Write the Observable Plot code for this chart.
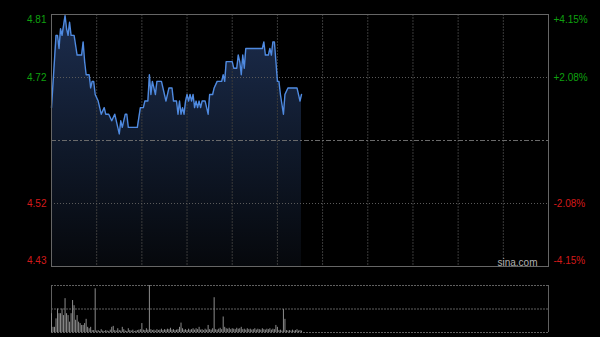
<!DOCTYPE html>
<html>
<head>
<meta charset="utf-8">
<script src="https://cdn.jsdelivr.net/npm/d3@7"></script>
<script src="https://cdn.jsdelivr.net/npm/@observablehq/plot@0.6"></script>
<style>
  html, body { margin: 0; padding: 0; background: #000; }
  #wrap { position: relative; width: 600px; height: 337px; background: #000; overflow: hidden; }
  #wrap svg { position: absolute; left: 0; display: block; }
</style>
</head>
<body>
<div id="wrap"></div>
<script>
// ---- data ----
const prevClose = 4.62;
const maxPct = 4.15;               // top / bottom of the price scale, in %
const sessionMinutes = 330;        // HK session 09:30-12:00, 13:00-16:00
const gridMinutes = [30, 60, 90, 120, 150, 180, 210, 240, 270, 300];

const leftLabels = ["4.81", "4.72", "4.52", "4.43"];
const rightLabels = ["+4.15%", "+2.08%", "-2.08%", "-4.15%"];

// minute since open, last price (vertices of the intraday line)
const times = [0, 3, 4, 5, 6, 7, 9, 10, 11, 12, 13, 15, 17, 20, 21, 22, 23, 25, 26, 27, 28, 29, 31, 32,
  33, 35, 36, 38, 40, 42, 44, 45, 46, 47, 49, 50, 51, 57, 59, 61, 62, 64, 65, 66, 67, 69, 70, 73,
  75, 76, 78, 80, 81, 83, 84, 85, 86, 87, 88, 89, 90, 91, 92, 93, 94, 95, 96, 97, 98, 99, 100, 102,
  103, 104, 105, 107, 108, 110, 113, 114, 115, 116, 120, 121, 123, 124, 125, 126, 127, 128, 129,
  140, 141, 142, 144, 145, 146, 147, 148, 150, 151, 152, 154, 155, 157, 163, 164, 165, 166];
const prices = [4.67, 4.78, 4.78, 4.76, 4.79, 4.78, 4.81, 4.79, 4.78, 4.80, 4.78, 4.78, 4.75, 4.75, 4.77, 4.74, 4.72, 4.72, 4.70, 4.71, 4.71, 4.69, 4.68, 4.67,
  4.66, 4.67, 4.66, 4.66, 4.65, 4.66, 4.64, 4.63, 4.65, 4.64, 4.66, 4.66, 4.64, 4.64, 4.67, 4.67, 4.68, 4.68, 4.72, 4.69, 4.71, 4.69, 4.71, 4.71,
  4.69, 4.68, 4.70, 4.70, 4.68, 4.68, 4.66, 4.68, 4.66, 4.67, 4.66, 4.68, 4.69, 4.68, 4.69, 4.68, 4.69, 4.67, 4.68, 4.67, 4.68, 4.67, 4.68, 4.68,
  4.67, 4.66, 4.69, 4.69, 4.70, 4.71, 4.71, 4.72, 4.71, 4.74, 4.74, 4.73, 4.73, 4.75, 4.74, 4.72, 4.75, 4.73, 4.76,
  4.76, 4.77, 4.75, 4.75, 4.76, 4.75, 4.77, 4.77, 4.71, 4.71, 4.69, 4.66, 4.69, 4.70, 4.70, 4.69, 4.68, 4.69];

// volume per minute (relative units, 100 = top of the volume panel)
const volumes = [40, 11, 11, 29, 50, 40, 40, 50, 36, 72, 40, 36, 22, 40, 68, 57, 26, 36, 22, 19,
  15, 15, 19, 28, 11, 8, 11, 4, 4, 93, 3, 4, 2, 6, 3, 2, 4, 3, 2, 5,
  11, 13, 4, 3, 8, 4, 3, 11, 6, 3, 2, 8, 4, 3, 5, 2, 3, 4, 5, 6,
  19, 5, 4, 8, 5, 100, 6, 4, 5, 3, 6, 4, 5, 7, 4, 6, 5, 7, 6, 9,
  5, 6, 4, 5, 6, 11, 20, 8, 5, 6, 4, 7, 5, 6, 8, 5, 8, 6, 11, 5,
  6, 4, 7, 5, 15, 6, 5, 8, 74, 6, 5, 7, 9, 6, 33, 11, 8, 7, 9, 6,
  8, 7, 6, 9, 7, 8, 11, 6, 7, 5, 8, 6, 7, 5, 6, 8, 5, 7, 6, 5,
  8, 6, 5, 7, 6, 8, 5, 7, 6, 15, 11, 4, 5, 3, 49, 28, 4, 3, 4, 3,
  5, 3, 4, 6, 3, 4, 3];

// ---- derived ----
const yTop = prevClose * (1 + maxPct / 100);
const yBot = prevClose * (1 - maxPct / 100);
const yHi = prevClose * (1 + maxPct / 200);
const yLo = prevClose * (1 - maxPct / 200);
const tickValues = [yTop, yHi, yLo, yBot];
const priceRows = times.map((t, i) => ({t, p: prices[i]}));
const volRows = volumes.map((v, t) => ({t, v}));
const labelRows = tickValues.map((y, i) => ({y, left: leftLabels[i], right: rightLabels[i], up: i < 2, dy: i === 0 ? 5 : i === 3 ? -6 : 0}));

const green = "#0fa00f", red = "#d41a1a";
const font = {fontFamily: "'Liberation Sans', Arial, sans-serif", fontSize: "10px", background: "transparent", overflow: "visible"};

const gradient = () => {
  const g = document.createElementNS("http://www.w3.org/2000/svg", "g");
  g.innerHTML = `<defs><linearGradient id="pfill" gradientUnits="userSpaceOnUse" x1="0" y1="14" x2="0" y2="266">
      <stop offset="0" stop-color="#1c2d4e"/><stop offset="0.5" stop-color="#101a2c"/><stop offset="1" stop-color="#06080c"/>
    </linearGradient></defs>`;
  return g;
};

const labelMarks = [];
for (const row of labelRows) {
  labelMarks.push(Plot.text([row], {y: "y", text: "left", frameAnchor: "left", dx: -5, dy: row.dy, textAnchor: "end", fill: row.up ? green : red}));
  labelMarks.push(Plot.text([row], {y: "y", text: "right", frameAnchor: "right", dx: 5, dy: row.dy, textAnchor: "start", fill: row.up ? green : red}));
}

const pricePlot = Plot.plot({
  width: 600, height: 272,
  marginLeft: 51, marginRight: 52, marginTop: 14, marginBottom: 6,
  style: font,
  x: {domain: [0, sessionMinutes], axis: null},
  y: {domain: [yBot, yTop], axis: null},
  marks: [
    gradient,
    Plot.areaY(priceRows, {x: "t", y1: yBot, y2: "p", fill: "url(#pfill)"}),
    Plot.ruleX(gridMinutes, {stroke: "#3a3a3a", strokeDasharray: "2,1"}),
    Plot.ruleY([yHi, yLo], {stroke: "#5a5a5a", strokeDasharray: "1,2"}),
    Plot.ruleY([prevClose], {stroke: "#6a6a6a", strokeDasharray: "5,2,2,2"}),
    Plot.lineY(priceRows, {x: "t", y: "p", stroke: "#4f8ae0", strokeWidth: 1.4}),
    Plot.frame({stroke: "#666"}),
    ...labelMarks,
    Plot.text(["sina.com"], {frameAnchor: "bottom-right", dx: -11, dy: -1, lineAnchor: "bottom", textAnchor: "end", fill: "#b0b0b0", fontSize: 10})
  ]
});
pricePlot.style.top = "0px";

const volPlot = Plot.plot({
  width: 600, height: 65,
  marginLeft: 51, marginRight: 52, marginTop: 13, marginBottom: 5,
  style: font,
  x: {domain: [0, sessionMinutes], axis: null},
  y: {domain: [0, 100], axis: null},
  marks: [
    Plot.ruleY([0, 50, 100], {stroke: "#606060", strokeDasharray: "2,1"}),
    Plot.ruleX([0, sessionMinutes], {stroke: "#606060"}),
    Plot.ruleX(volRows, {x: "t", y1: 0, y2: "v", stroke: "#8c8c8c", strokeWidth: 1})
  ]
});
volPlot.style.top = "272px";

const wrap = document.getElementById("wrap");
wrap.appendChild(pricePlot);
wrap.appendChild(volPlot);
</script>
</body>
</html>
